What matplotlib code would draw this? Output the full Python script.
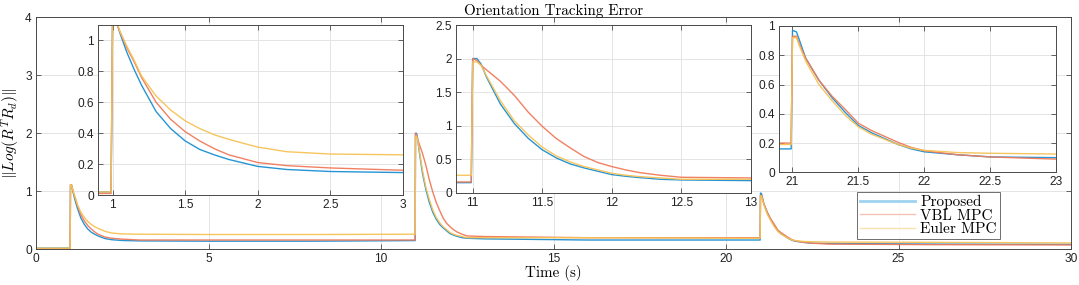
import matplotlib
matplotlib.use("Agg")
import matplotlib.pyplot as plt
from matplotlib.lines import Line2D

# ---- data ----
t = [0, 0.99, 1.0, 1.03, 1.05, 1.1, 1.15, 1.2, 1.3, 1.4, 1.5, 1.6, 1.7, 1.8, 2.0, 2.2, 2.5, 3.0, 5.0, 8.0, 10.99,
     11.0, 11.03, 11.06, 11.1, 11.2, 11.3, 11.4, 11.5, 11.6, 11.7, 11.8, 11.9, 12.0, 12.1, 12.2, 12.35, 12.5, 13.0, 16.0, 20.99,
     21.0, 21.03, 21.05, 21.1, 21.2, 21.3, 21.4, 21.5, 21.6, 21.7, 21.8, 21.9, 22.0, 22.25, 22.5, 23.0, 26.0, 30.0]

proposed = [0.02, 0.02, 1.11, 1.11, 1.05, 0.92, 0.81, 0.71, 0.54, 0.43, 0.35, 0.295, 0.26, 0.23, 0.185, 0.165, 0.152, 0.145, 0.14, 0.14, 0.15,
            2.0, 2.0, 1.92, 1.72, 1.32, 1.03, 0.81, 0.64, 0.52, 0.43, 0.37, 0.32, 0.27, 0.245, 0.225, 0.20, 0.19, 0.18, 0.16, 0.16,
            0.97, 0.96, 0.91, 0.78, 0.63, 0.51, 0.41, 0.32, 0.27, 0.23, 0.19, 0.16, 0.14, 0.12, 0.105, 0.10, 0.09, 0.085]

vbl_mpc = [0.01, 0.01, 1.11, 1.11, 1.06, 0.95, 0.86, 0.76, 0.60, 0.49, 0.41, 0.35, 0.30, 0.26, 0.21, 0.19, 0.175, 0.16, 0.16, 0.16, 0.16,
           2.0, 1.97, 1.90, 1.83, 1.66, 1.45, 1.20, 0.99, 0.81, 0.67, 0.54, 0.45, 0.39, 0.34, 0.30, 0.26, 0.23, 0.22, 0.20, 0.20,
           0.93, 0.93, 0.88, 0.78, 0.63, 0.52, 0.43, 0.335, 0.285, 0.245, 0.205, 0.17, 0.147, 0.12, 0.105, 0.09, 0.08, 0.075]

euler_mpc = [0.02, 0.02, 1.11, 1.11, 1.06, 0.96, 0.87, 0.77, 0.64, 0.55, 0.48, 0.43, 0.39, 0.36, 0.31, 0.28, 0.265, 0.26, 0.255, 0.255, 0.26,
             1.95, 1.95, 1.90, 1.74, 1.37, 1.07, 0.86, 0.68, 0.55, 0.46, 0.39, 0.34, 0.29, 0.26, 0.24, 0.22, 0.20, 0.20, 0.20, 0.19,
             0.92, 0.92, 0.87, 0.76, 0.60, 0.49, 0.39, 0.31, 0.26, 0.225, 0.19, 0.165, 0.15, 0.135, 0.13, 0.125, 0.12, 0.11]

labels = ["Proposed", "VBL MPC", "Euler MPC"]
title = "Orientation Tracking Error"
xlabel = "Time (s)"
ylabel = r"$\Vert Log(R^T R_d)\Vert$"

main_xticks = [0, 5, 10, 15, 20, 25, 30]
main_yticks = [0, 1, 2, 3, 4]
inset_specs = [
    dict(xlim=(0.9, 3), ylim=(0, 1.1), xticks=[1, 1.5, 2, 2.5, 3], yticks=[0, 0.2, 0.4, 0.6, 0.8, 1]),
    dict(xlim=(10.88, 13), ylim=(0, 2.5), xticks=[11, 11.5, 12, 12.5, 13], yticks=[0, 0.5, 1, 1.5, 2, 2.5]),
    dict(xlim=(20.9, 23), ylim=(0, 1), xticks=[21, 21.5, 22, 22.5, 23], yticks=[0, 0.2, 0.4, 0.6, 0.8, 1]),
]

# ---- style ----
plt.rcParams['mathtext.fontset'] = 'cm'
plt.rcParams['font.family'] = ['Liberation Sans', 'DejaVu Sans']
colors = ['#1b8fd2', '#f07a5a', '#f6c255']
alphas = [0.95, 0.95, 0.95]
axcol = '#4a4a4a'
gridcol = '#e4e4e4'
tickfs = 8.6
serif = 'cmr10'

fig = plt.figure(figsize=(10.79, 2.85), dpi=100)
W, H = 1079, 285

def px_axes(l, r, top, bot):
    return fig.add_axes([l / W, 1 - bot / H, (r - l) / W, (bot - top) / H])

def style(ax):
    for s in ax.spines.values():
        s.set_color(axcol)
        s.set_linewidth(0.7)
    ax.tick_params(direction='in', length=3.5, width=0.6, color=axcol,
                   labelsize=tickfs, top=True, right=True, labelcolor='#222222', pad=3)
    ax.grid(True, color=gridcol, linewidth=0.7)
    ax.set_axisbelow(True)

series = [proposed, vbl_mpc, euler_mpc]

ax = px_axes(36, 1071, 17.3, 249.3)
style(ax)
for y, c, a, lab in zip(series, colors, alphas, labels):
    ax.plot(t, y, color=c, lw=1.0, alpha=a, label=lab)
ax.set_xlim(0, 30)
ax.set_ylim(0, 4)
ax.set_xticks(main_xticks)
ax.set_yticks(main_yticks)
ax.set_title(title, fontfamily=serif, fontsize=10.8, pad=2)
ax.set_xlabel(xlabel, fontfamily=serif, fontsize=10.8, labelpad=0)
ax.set_ylabel(ylabel, fontsize=11)
ax.yaxis.set_label_coords(-0.0135, 0.5)

boxes = [(98, 403, 25, 195), (456, 750.7, 25, 192.7), (779.3, 1056.3, 26, 172.3)]
for (l, r, tp, bt), spec in zip(boxes, inset_specs):
    ia = px_axes(l, r, tp, bt)
    ia.set_facecolor('white')
    style(ia)
    for y, c, a in zip(series, colors, alphas):
        ia.plot(t, y, color=c, lw=1.0, alpha=a)
    ia.set_xlim(*spec['xlim'])
    ia.set_ylim(*spec['ylim'])
    ia.set_xticks(spec['xticks'])
    ia.set_yticks(spec['yticks'])
    ia.set_xticklabels([f"{v:g}" for v in spec['xticks']])
    ia.set_yticklabels([f"{v:g}" for v in spec['yticks']])

handles = [Line2D([], [], color='#9fd3ef', lw=2.0),
           Line2D([], [], color='#f6c3b3', lw=1.0),
           Line2D([], [], color='#f9e2b0', lw=1.0)]
leg = fig.legend(handles, labels, loc='upper left',
                 bbox_to_anchor=(856.7 / W, 1 - 191.7 / H),
                 prop={'family': serif, 'size': 11}, frameon=True, fancybox=False,
                 edgecolor=axcol, handlelength=3.6, handletextpad=0.35,
                 borderpad=0.2, labelspacing=0.0, borderaxespad=0)
leg.get_frame().set_linewidth(0.7)

fig.savefig('out.png', dpi=100)
